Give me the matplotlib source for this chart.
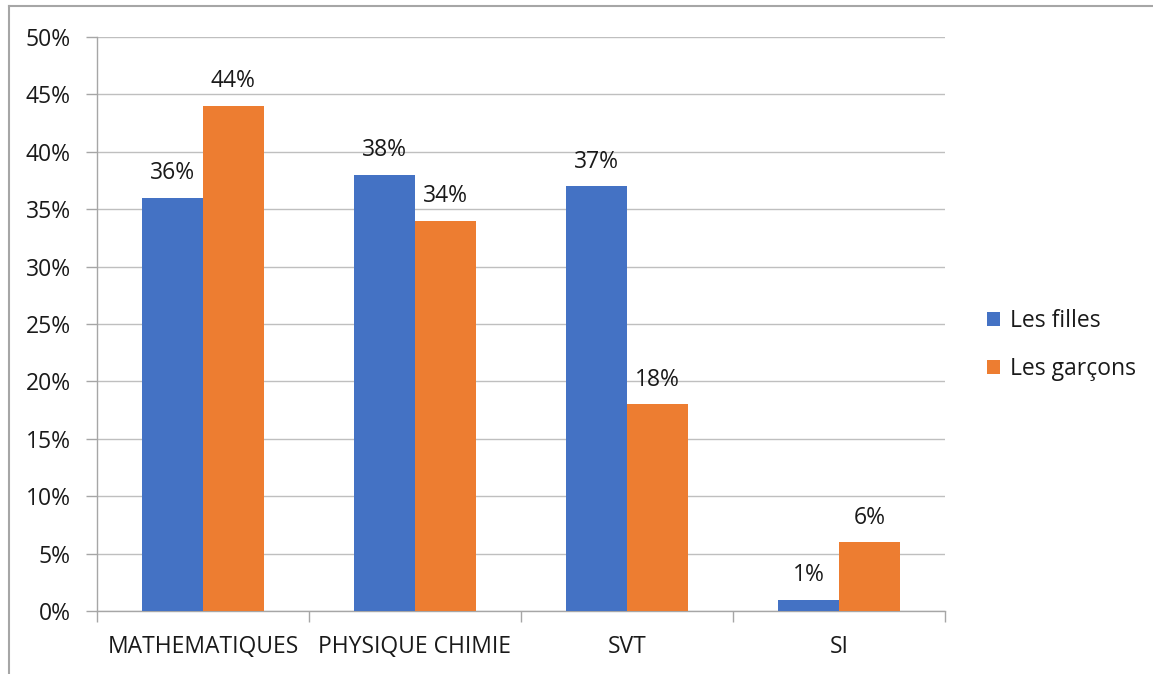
import matplotlib.pyplot as plt
import numpy as np
from matplotlib.lines import Line2D
from matplotlib.ticker import FuncFormatter

plt.rcParams['font.family'] = ['Open Sans', 'DejaVu Sans']

# données
categories = ['MATHEMATIQUES', 'PHYSIQUE CHIMIE', 'SVT', 'SI']
filles = [36, 38, 37, 1]
garcons = [44, 34, 18, 6]
series_names = ['Les filles', 'Les garçons']
colors = ['#4472C4', '#ED7D31']

FS = 16.5


def draw_chart():
    fig = plt.figure(figsize=(11.53, 6.74), dpi=100)
    ax = fig.add_axes([97 / 1153, 1 - 611 / 674, 848 / 1153, 574 / 674])

    # cadre du graphique (haut et gauche visibles)
    fig.add_artist(Line2D([9 / 1153, 9 / 1153], [0, 1 - 6 / 674], transform=fig.transFigure,
                          color='#A6A6A6', linewidth=1.5))
    fig.add_artist(Line2D([9 / 1153, 1], [1 - 6 / 674, 1 - 6 / 674], transform=fig.transFigure,
                          color='#A6A6A6', linewidth=1.5))

    x = np.arange(len(categories)) + 0.5
    w = 0.286
    b1 = ax.bar(x - w / 2, filles, w, color=colors[0], label=series_names[0], zorder=3)
    b2 = ax.bar(x + w / 2, garcons, w, color=colors[1], label=series_names[1], zorder=3)

    for bars, vals in [(b1, filles), (b2, garcons)]:
        for rect, v in zip(bars, vals):
            ax.annotate(f'{v}%', (rect.get_x() + rect.get_width() / 2, v),
                        xytext=(0, 9), textcoords='offset points',
                        ha='center', va='bottom', fontsize=FS, color='#1a1a1a')

    ax.set_xlim(0, len(categories))
    ax.set_ylim(0, 50)
    ax.set_yticks(np.arange(0, 51, 5))
    ax.yaxis.set_major_formatter(FuncFormatter(lambda v, p: f'{int(v)}%'))
    ax.grid(axis='y', color='#BFBFBF', linewidth=1, zorder=0)

    ax.set_xticks(x)
    ax.set_xticklabels(categories)
    ax.set_xticks(np.arange(0, len(categories) + 1), minor=True)
    ax.tick_params(axis='x', which='major', length=0, pad=17, labelsize=FS, labelcolor='#1a1a1a')
    ax.tick_params(axis='x', which='minor', length=8, color='#A6A6A6', width=1)
    ax.tick_params(axis='y', length=8, color='#A6A6A6', width=1, labelsize=FS, pad=11,
                   labelcolor='#1a1a1a')

    for s in ['top', 'right']:
        ax.spines[s].set_visible(False)
    for s in ['left', 'bottom']:
        ax.spines[s].set_color('#A6A6A6')
        ax.spines[s].set_linewidth(1)

    leg = fig.legend(handles=[b1, b2], labels=series_names, loc='center left',
                     bbox_to_anchor=(966 / 1153, 1 - 345 / 674), frameon=False,
                     fontsize=FS, handlelength=0.6, handleheight=0.6,
                     handletextpad=0.4, labelspacing=1.05)
    for t in leg.get_texts():
        t.set_color('#1a1a1a')

    fig.savefig('out.png', dpi=100)


if __name__ == "__main__":
    draw_chart()
